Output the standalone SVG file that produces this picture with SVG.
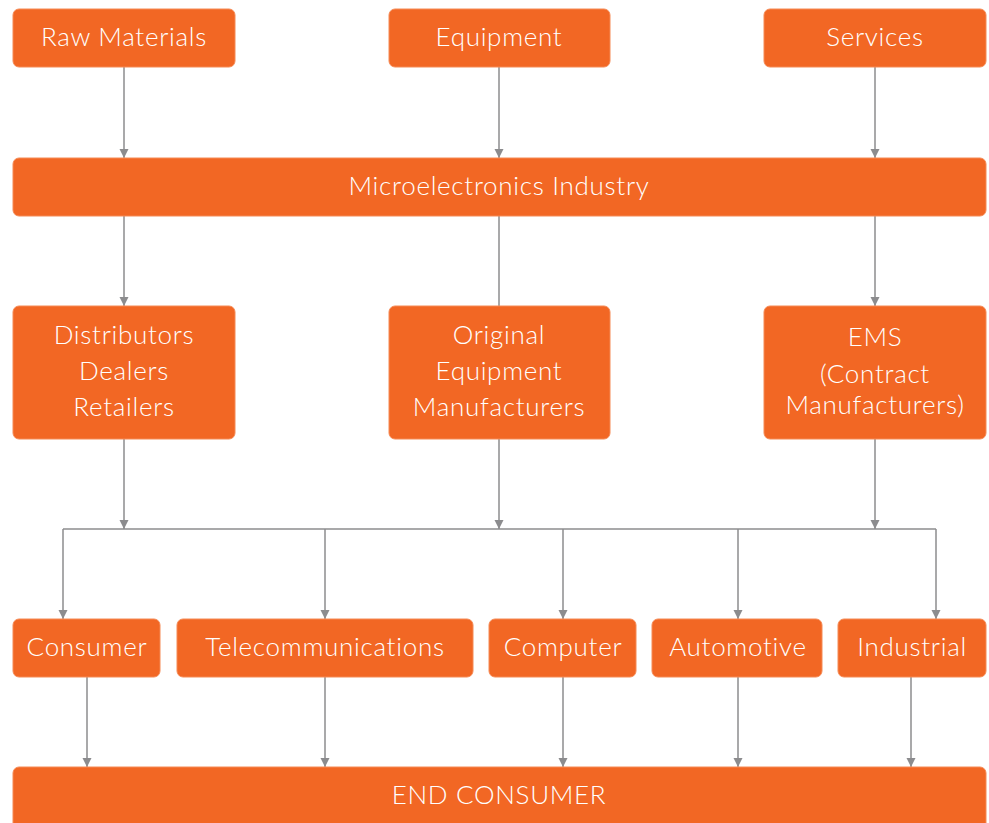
<svg xmlns="http://www.w3.org/2000/svg" width="989" height="823" viewBox="0 0 989 823">
<style>
.box{fill:#F26724;stroke:#F58A55;stroke-width:1}
.t{fill:#fff;font-family:"Lato","Noto Sans",sans-serif;font-weight:300;font-size:26px;letter-spacing:0.7px;text-anchor:middle;dominant-baseline:central}
.c{fill:none;stroke:#8C8C8E;stroke-width:1.5}
</style>
<defs>
<marker id="ah" markerWidth="10" markerHeight="10" refX="9" refY="5" orient="auto" markerUnits="userSpaceOnUse">
<path d="M0,0.5 L9,5 L0,9.5 Z" fill="#8C8C8E"/>
</marker>
</defs>
<rect width="989" height="823" fill="#fff"/>
<g id="connectors">
<path class="c" d="M124,67 V158" marker-end="url(#ah)"/>
<path class="c" d="M499,67 V158" marker-end="url(#ah)"/>
<path class="c" d="M875,67 V158" marker-end="url(#ah)"/>
<path class="c" d="M124,216 V306" marker-end="url(#ah)"/>
<path class="c" d="M499,216 V306"/>
<path class="c" d="M875,216 V306" marker-end="url(#ah)"/>
<path class="c" d="M124,439 V529" marker-end="url(#ah)"/>
<path class="c" d="M499,439 V529" marker-end="url(#ah)"/>
<path class="c" d="M875,439 V529" marker-end="url(#ah)"/>
<path class="c" d="M63,529 H936"/>
<path class="c" d="M63,529 V619" marker-end="url(#ah)"/>
<path class="c" d="M325,529 V619" marker-end="url(#ah)"/>
<path class="c" d="M563,529 V619" marker-end="url(#ah)"/>
<path class="c" d="M738,529 V619" marker-end="url(#ah)"/>
<path class="c" d="M936,529 V619" marker-end="url(#ah)"/>
<path class="c" d="M87,677 V767" marker-end="url(#ah)"/>
<path class="c" d="M325,677 V767" marker-end="url(#ah)"/>
<path class="c" d="M563,677 V767" marker-end="url(#ah)"/>
<path class="c" d="M738,677 V767" marker-end="url(#ah)"/>
<path class="c" d="M911,677 V767" marker-end="url(#ah)"/>
</g>
<g id="raw"><rect class="box" x="13" y="9" width="222" height="58" rx="6"/><text class="t" x="124" y="36">Raw Materials</text></g>
<g id="equipment"><rect class="box" x="389" y="9" width="221" height="58" rx="6"/><text class="t" x="499" y="36">Equipment</text></g>
<g id="services"><rect class="box" x="764" y="9" width="222" height="58" rx="6"/><text class="t" x="875" y="36">Services</text></g>
<g id="micro"><rect class="box" x="13" y="158" width="973" height="58" rx="6"/><text class="t" x="499" y="185">Microelectronics Industry</text></g>
<g id="distributors"><rect class="box" x="13" y="306" width="222" height="133" rx="6"/><text class="t" x="124" y="334">Distributors</text><text class="t" x="124" y="370">Dealers</text><text class="t" x="124" y="406">Retailers</text></g>
<g id="oem"><rect class="box" x="389" y="306" width="221" height="133" rx="6"/><text class="t" x="499" y="334">Original</text><text class="t" x="499" y="370">Equipment</text><text class="t" x="499" y="406">Manufacturers</text></g>
<g id="ems"><rect class="box" x="764" y="306" width="222" height="133" rx="6"/><text class="t" x="875" y="336">EMS</text><text class="t" x="875" y="373">(Contract</text><text class="t" x="875" y="404">Manufacturers)</text></g>
<g id="consumer"><rect class="box" x="13" y="619" width="147" height="58" rx="6"/><text class="t" x="87" y="646">Consumer</text></g>
<g id="telecom"><rect class="box" x="177" y="619" width="296" height="58" rx="6"/><text class="t" x="325" y="646">Telecommunications</text></g>
<g id="computer"><rect class="box" x="489" y="619" width="147" height="58" rx="6"/><text class="t" x="563" y="646">Computer</text></g>
<g id="automotive"><rect class="box" x="652" y="619" width="170" height="58" rx="6"/><text class="t" x="738" y="646">Automotive</text></g>
<g id="industrial"><rect class="box" x="838" y="619" width="148" height="58" rx="6"/><text class="t" x="912" y="646">Industrial</text></g>
<g id="end"><rect class="box" x="13" y="767" width="973" height="70" rx="6"/><text class="t" x="499" y="794">END CONSUMER</text></g>
</svg>
